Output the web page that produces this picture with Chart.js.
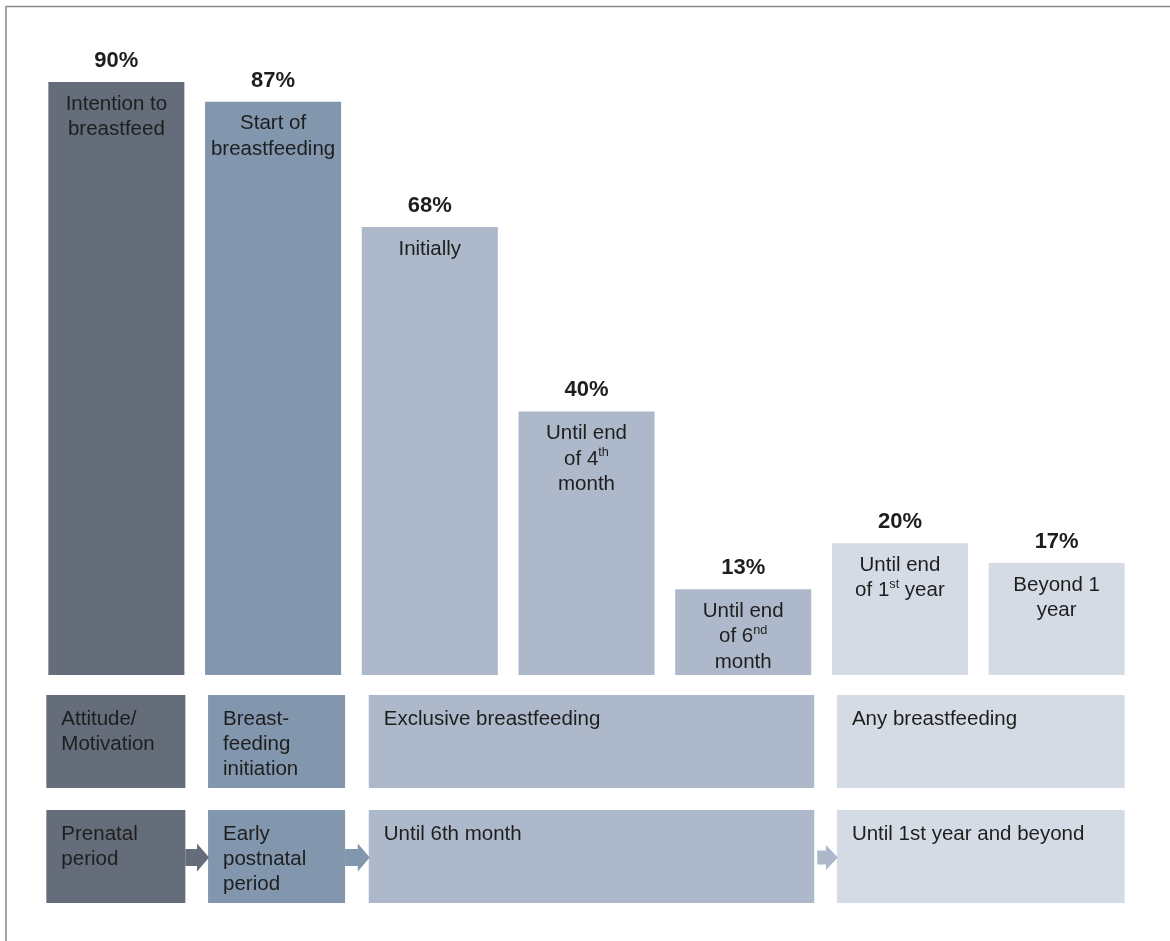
<!DOCTYPE html>
<html lang="en">
<head>
    <meta charset="UTF-8">
    <title>Breastfeeding stages</title>
    <script src="https://cdn.jsdelivr.net/npm/chart.js"></script>
    <style>
        body, html {
            margin: 0;
            background: #fff;
        }
        canvas {
            display: block;
        }
    </style>
</head>
<body>
    <canvas id="stagesChart" width="1170" height="941"></canvas>

    <script>
        // bar data
        const categories = ['Intention to breastfeed', 'Start of breastfeeding', 'Initially', 'Until end of 4th month', 'Until end of 6nd month', 'Until end of 1st year', 'Beyond 1 year'];
        const values = [90, 87, 68, 40, 13, 20, 17];
        // text inside each bar, "^" marks a superscript up to the next space
        const barLines = [
            ['Intention to', 'breastfeed'],
            ['Start of', 'breastfeeding'],
            ['Initially'],
            ['Until end', 'of 4^th', 'month'],
            ['Until end', 'of 6^nd', 'month'],
            ['Until end', 'of 1^st year'],
            ['Beyond 1', 'year']
        ];
        const barColors = ['#656c7a', '#8296ae', '#adb8ca', '#adb8ca', '#adb8ca', '#d5dbe5', '#d5dbe5'];

        // stage boxes under the bars
        const stageSpans = [[0, 0], [1, 1], [2, 4], [5, 6]];
        const stageRow1 = [['Attitude/', 'Motivation'], ['Breast-', 'feeding', 'initiation'], ['Exclusive breastfeeding'], ['Any breastfeeding']];
        const stageRow2 = [['Prenatal', 'period'], ['Early', 'postnatal', 'period'], ['Until 6th month'], ['Until 1st year and beyond']];
        const stageColors = ['#656c7a', '#8296ae', '#adb8ca', '#d5dbe5'];

        const FONT = '"Liberation Sans", Arial, sans-serif';
        const TEXT = '#1e1e1e';
        const SIZE = 20.5;

        // the boxes sit a little off the bar edges in the original
        const boxShiftL = [-2, 3, 7, 5];
        const boxShiftR = [1, 4, 3, 0];

        function drawRichLine(ctx, line, cx, y, size) {
            // split into normal / superscript parts
            const parts = [];
            line.split(/(\^\S+)/).forEach(p => {
                if (!p) return;
                if (p[0] === '^') parts.push({ t: p.slice(1), sup: true });
                else parts.push({ t: p, sup: false });
            });
            let total = 0;
            parts.forEach(p => {
                ctx.font = (p.sup ? size * 0.62 : size) + 'px ' + FONT;
                p.w = ctx.measureText(p.t).width;
                total += p.w;
            });
            let x = cx - total / 2;
            ctx.textAlign = 'left';
            parts.forEach(p => {
                ctx.font = (p.sup ? size * 0.62 : size) + 'px ' + FONT;
                ctx.fillText(p.t, x, p.sup ? y - size * 0.32 : y);
                x += p.w;
            });
        }

        function drawArrow(ctx, x0, x1, cy, shaft, head, color) {
            const hl = 12;
            ctx.fillStyle = color;
            ctx.beginPath();
            ctx.moveTo(x0, cy - shaft / 2);
            ctx.lineTo(x1 - hl, cy - shaft / 2);
            ctx.lineTo(x1 - hl, cy - head / 2);
            ctx.lineTo(x1, cy);
            ctx.lineTo(x1 - hl, cy + head / 2);
            ctx.lineTo(x1 - hl, cy + shaft / 2);
            ctx.lineTo(x0, cy + shaft / 2);
            ctx.closePath();
            ctx.fill();
        }

        const labelsPlugin = {
            id: 'labels',
            afterDatasetsDraw(chart) {
                const ctx = chart.ctx;
                const bars = chart.getDatasetMeta(0).data;
                const area = chart.chartArea;
                ctx.save();
                ctx.textBaseline = 'middle';

                // frame
                ctx.strokeStyle = '#8a8a8a';
                ctx.lineWidth = 1.5;
                ctx.beginPath();
                ctx.moveTo(6, chart.height);
                ctx.lineTo(6, 6.5);
                ctx.lineTo(chart.width, 6.5);
                ctx.stroke();

                bars.forEach((bar, i) => {
                    ctx.fillStyle = TEXT;
                    ctx.textAlign = 'center';
                    ctx.font = 'bold 22px ' + FONT;
                    ctx.fillText(values[i] + '%', bar.x, bar.y - 21);
                    barLines[i].forEach((line, j) => {
                        drawRichLine(ctx, line, bar.x, bar.y + 22 + j * 25.5, SIZE);
                    });
                });

                // stage boxes
                const rows = [stageRow1, stageRow2];
                const rowTops = [area.bottom + 20, area.bottom + 135];
                const rowH = 93;
                const boxes = stageSpans.map((s, k) => ({
                    left: bars[s[0]].x - bars[s[0]].width / 2 + boxShiftL[k],
                    right: bars[s[1]].x + bars[s[1]].width / 2 + boxShiftR[k]
                }));
                rows.forEach((row, r) => {
                    row.forEach((lines, k) => {
                        const b = boxes[k];
                        ctx.fillStyle = stageColors[k];
                        ctx.fillRect(b.left, rowTops[r], b.right - b.left, rowH);
                        ctx.fillStyle = TEXT;
                        ctx.textAlign = 'left';
                        ctx.font = SIZE + 'px ' + FONT;
                        lines.forEach((line, j) => {
                            ctx.fillText(line, b.left + 15, rowTops[r] + 24 + j * 25);
                        });
                    });
                });

                // arrows between the period boxes
                const cy = rowTops[1] + rowH / 2 + 1;
                drawArrow(ctx, boxes[0].right, boxes[1].left + 1, cy, 17, 28, stageColors[0]);
                drawArrow(ctx, boxes[1].right, boxes[2].left + 1, cy, 17, 28, stageColors[1]);
                drawArrow(ctx, boxes[2].right + 3, boxes[3].left + 1, cy, 14, 25, stageColors[2]);
                ctx.restore();
            }
        };

        new Chart(document.getElementById('stagesChart').getContext('2d'), {
            type: 'bar',
            data: {
                labels: categories,
                datasets: [{
                    data: values,
                    backgroundColor: barColors,
                    borderWidth: 0,
                    barPercentage: 0.868,
                    categoryPercentage: 1
                }]
            },
            options: {
                responsive: false,
                animation: false,
                layout: {
                    padding: { left: 38, right: 35, top: 16, bottom: 266 }
                },
                plugins: {
                    legend: { display: false },
                    tooltip: { enabled: false }
                },
                scales: {
                    x: { display: false },
                    y: { display: false, min: 0, max: 100 }
                }
            },
            plugins: [labelsPlugin]
        });
    </script>
</body>
</html>
